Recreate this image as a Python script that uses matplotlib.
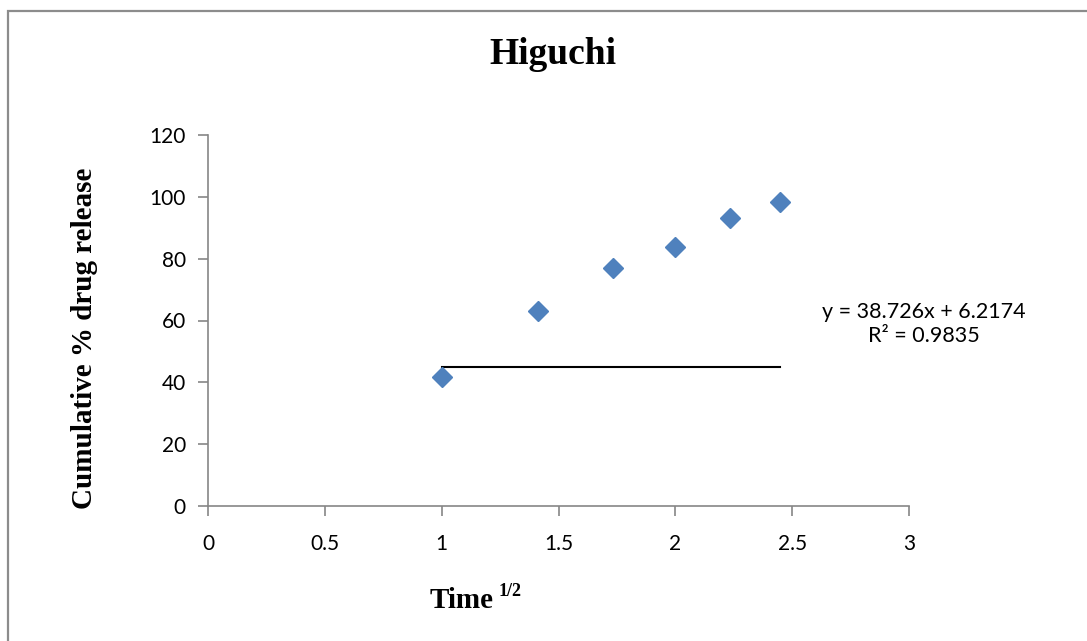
import matplotlib
matplotlib.use("Agg")
import matplotlib.pyplot as plt
from matplotlib.patches import Rectangle

# Data
time_sqrt = [1.0, 1.414, 1.732, 2.0, 2.236, 2.449]
cum_release = [41.6, 63.0, 77.1, 83.7, 93.0, 98.3]
trend_x = [1.0, 2.449]
trend_y = [45.0, 45.0]
x_ticks = [0, 0.5, 1, 1.5, 2, 2.5, 3]
x_tick_labels = ["0", "0.5", "1", "1.5", "2", "2.5", "3"]
y_ticks = [0, 20, 40, 60, 80, 100, 120]
eq_text = "y = 38.726x + 6.2174\nR² = 0.9835"

W, H = 1087, 641
fig = plt.figure(figsize=(W / 100, H / 100), dpi=100)

# outer chart frame
fig.patches.append(Rectangle((8 / W, 0 - 0.01), 1.1, 1 - 11 / H + 0.01,
                             transform=fig.transFigure, fill=False,
                             edgecolor="#8c8c8c", linewidth=1.6))

ax = fig.add_axes([208 / W, 1 - 506 / H, (909 - 208) / W, (506 - 135) / H])

ax.plot(trend_x, trend_y, color="black", linewidth=1.5, zorder=2)
ax.plot(time_sqrt, cum_release, linestyle="none", marker="D", markersize=10,
        color="#4F81BD", markeredgecolor="#4F81BD", zorder=3)

ax.set_xlim(0, 3)
ax.set_ylim(0, 120)
ax.set_xticks(x_ticks)
ax.set_xticklabels(x_tick_labels)
ax.set_yticks(y_ticks)

for s in ["top", "right"]:
    ax.spines[s].set_visible(False)
for s in ["left", "bottom"]:
    ax.spines[s].set_color("#868686")
    ax.spines[s].set_linewidth(1.2)

ax.tick_params(axis="both", colors="#868686", length=7, width=1.2,
               labelcolor="black", labelsize=15)
for lab in ax.get_xticklabels() + ax.get_yticklabels():
    lab.set_fontfamily("Lato")
ax.tick_params(axis="x", pad=13)
ax.tick_params(axis="y", pad=9)

fig.text(553 / W, 1 - 55 / H, "Higuchi", ha="center", va="center",
         fontsize=27, fontweight="bold", family="Liberation Serif")
fig.text(85 / W, 1 - 338 / H, "Cumulative % drug release", ha="center",
         va="center", rotation=90, fontsize=21, fontweight="bold",
         family="Liberation Serif")
fig.text(430 / W, 1 - 608 / H, "Time", ha="left", va="baseline",
         fontsize=21, fontweight="bold", family="Liberation Serif")
fig.text(499 / W, 1 - 596 / H, "1/2", ha="left", va="baseline",
         fontsize=13, fontweight="bold", family="Liberation Serif")

fig.text(924 / W, 1 - 324 / H, eq_text, ha="center", va="center",
         fontsize=15.5, family="Lato", linespacing=1.3)

fig.savefig("out.png", dpi=100)
